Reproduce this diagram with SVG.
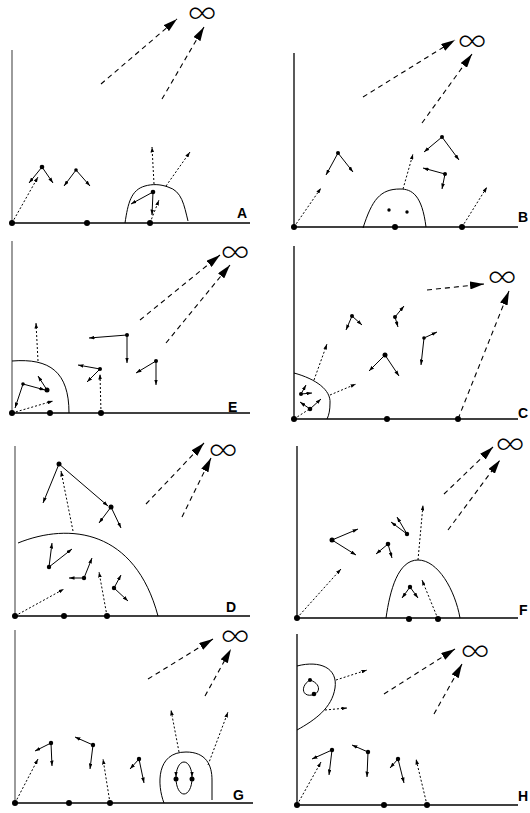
<svg xmlns="http://www.w3.org/2000/svg" width="530" height="813" viewBox="0 0 530 813">
<defs>
<marker id="ms" viewBox="0 0 6 4" refX="6" refY="2" markerWidth="5.5" markerHeight="3.8" markerUnits="userSpaceOnUse" orient="auto"><path d="M0,0L6,2L0,4z" fill="#000"/></marker>
<marker id="mb" viewBox="0 0 14 8" refX="14" refY="4" markerWidth="14" markerHeight="8" markerUnits="userSpaceOnUse" orient="auto"><path d="M0,0L14,4L0,8z" fill="#000"/></marker>
</defs>
<style>
.ax{stroke:#000;stroke-width:1.3;fill:none}
.axg{stroke:#666;stroke-width:1.3;fill:none}
.cv{stroke:#000;stroke-width:1;fill:none}
.s{stroke:#000;stroke-width:1;fill:none;marker-end:url(#ms)}
.d{stroke:#000;stroke-width:1;fill:none;stroke-dasharray:2,2;marker-end:url(#ms)}
.b{stroke:#000;stroke-width:1.1;fill:none;stroke-dasharray:5,4;marker-end:url(#mb)}
.lbl{font-family:"Liberation Sans",Arial,sans-serif;font-weight:bold;font-size:14px;fill:#000}
.inf{font-family:Inter,"DejaVu Sans",sans-serif;font-weight:200;font-size:32px;fill:#000;text-anchor:middle}
circle{fill:#000}
</style>
<rect width="530" height="813" fill="#fff"/>

<!-- Panel A -->
<g id="panel-A">
<path class="axg" d="M12,50V223"/><path class="ax" d="M12,223H250"/>
<path class="cv" d="M125,223C128,203 131,190 145,186C152,184 160,184 168,187C182,191 184,205 188,221"/>
<g id="conn-A">
<path class="b" d="M101,84L177,19"/><path class="b" d="M162,99L204,27"/>
<path class="d" d="M12,223L38,177"/>
<path class="s" d="M42,167L29,183"/><path class="s" d="M42,167L53,183"/>
<path class="s" d="M76,170L64,186"/><path class="s" d="M76,170L90,186"/>
<path class="s" d="M153,192L131,204"/><path class="s" d="M153,192L152,215"/>
<path class="d" d="M150,223L159,200"/>
<path class="d" d="M154,184L152,147"/><path class="d" d="M166,186L190,152"/>
</g>
<g id="nodes-A">
<circle id="A-o" cx="12" cy="223" r="3"/><circle id="A-p1" cx="87" cy="223" r="3"/><circle id="A-p2" cx="150" cy="223" r="3"/>
<circle id="A-n1" cx="42" cy="167" r="2.3"/><circle id="A-n2" cx="76" cy="170" r="1.8"/><circle id="A-n3" cx="153" cy="192" r="2.3"/>
<text id="A-inf" class="inf" x="202" y="23">∞</text>
</g>
<text class="lbl" x="237" y="218">A</text>
</g>

<!-- Panel B -->
<g id="panel-B">
<path class="ax" d="M294,53V227"/><path class="ax" d="M294,227H518"/>
<path class="cv" d="M363,228C372,200 380,189 400,189C412,189 422,195 426,227"/>
<g id="conn-B">
<path class="b" d="M363,97L455,40"/><path class="b" d="M422,123L472,54"/>
<path class="d" d="M294,227L321,188"/>
<path class="s" d="M338,153L326,175"/><path class="s" d="M338,153L353,172"/>
<path class="d" d="M403,189L413,154"/>
<path class="s" d="M442,137L424,152"/><path class="s" d="M442,137L459,160"/>
<path class="s" d="M445,174L423,168"/><path class="s" d="M445,174L442,189"/>
<path class="d" d="M462,227L487,187"/>
</g>
<g id="nodes-B">
<circle id="B-o" cx="294" cy="227" r="3"/><circle id="B-p1" cx="395" cy="227" r="3"/><circle id="B-p2" cx="462" cy="227" r="3"/>
<circle id="B-n1" cx="338" cy="153" r="2"/><circle id="B-n2" cx="389" cy="210" r="1.7"/><circle id="B-n3" cx="407" cy="212" r="1.7"/>
<circle id="B-n4" cx="442" cy="137" r="2"/><circle id="B-n5" cx="445" cy="174" r="2"/>
<text id="B-inf" class="inf" x="472" y="51">∞</text>
</g>
<text class="lbl" x="518" y="222">B</text>
</g>

<!-- Panel E -->
<g id="panel-E">
<path class="axg" d="M12,241V413"/><path class="ax" d="M12,413H250"/>
<path class="cv" d="M12,361C50,358 69,372 69,413"/>
<g id="conn-E">
<path class="b" d="M140,320L220,255"/><path class="b" d="M166,343L230,265"/>
<path class="d" d="M38,361L36,323"/>
<path class="s" d="M23,384L15,408"/><path class="s" d="M23,384L45,390"/><path class="s" d="M47,390L38,376"/>
<path class="d" d="M12,413L53,401"/>
<path class="s" d="M100,369L78,365"/><path class="s" d="M100,369L87,382"/>
<path class="d" d="M101,413L100,374"/>
<path class="s" d="M127,335L89,338"/><path class="s" d="M127,335L127,363"/>
<path class="s" d="M156,361L136,373"/><path class="s" d="M156,361L156,385"/>
</g>
<g id="nodes-E">
<circle id="E-o" cx="12" cy="413" r="3"/><circle id="E-p1" cx="50" cy="413" r="3"/><circle id="E-p2" cx="101" cy="413" r="3"/>
<circle id="E-n1" cx="23" cy="384" r="1.8"/><circle id="E-n2" cx="47" cy="390" r="2.5"/>
<circle id="E-n3" cx="100" cy="369" r="2"/><circle id="E-n4" cx="127" cy="335" r="2"/><circle id="E-n5" cx="156" cy="361" r="2"/>
<text id="E-inf" class="inf" x="235" y="262">∞</text>
</g>
<text class="lbl" x="228" y="412">E</text>
</g>

<!-- Panel C -->
<g id="panel-C">
<path class="ax" d="M294,246V419"/><path class="ax" d="M294,419H518"/>
<path class="cv" d="M294,373C316,379 331,390 330,403C330,410 329,415 327,419"/>
<g id="conn-C">
<path class="b" d="M427,290L484,284"/><path class="b" d="M458,419L509,291"/>
<path class="d" d="M314,380L327,344"/><path class="d" d="M330,395L356,384"/>
<path class="s" d="M301,394L306,385"/><path class="s" d="M301,394L312,393"/>
<path class="s" d="M310,409L300,402"/><path class="s" d="M310,409L321,399"/>
<path class="cv" stroke-dasharray="2,2" d="M294,419L308,410"/>
<path class="s" d="M352,316L346,330"/><path class="s" d="M352,316L362,325"/>
<path class="s" d="M395,317L404,306"/><path class="s" d="M395,317L398,327"/>
<path class="s" d="M385,355L369,371"/><path class="s" d="M385,355L399,376"/>
<path class="s" d="M424,338L437,332"/><path class="s" d="M424,338L421,365"/>
</g>
<g id="nodes-C">
<circle id="C-o" cx="294" cy="419" r="3"/><circle id="C-p1" cx="387" cy="419" r="3"/><circle id="C-p2" cx="458" cy="419" r="3"/>
<circle id="C-n1" cx="301" cy="394" r="2"/><circle id="C-n2" cx="310" cy="409" r="2.3"/>
<circle id="C-n3" cx="352" cy="316" r="2"/><circle id="C-n4" cx="395" cy="317" r="2"/>
<circle id="C-n5" cx="385" cy="355" r="2.5"/><circle id="C-n6" cx="424" cy="338" r="1.8"/>
<text id="C-inf" class="inf" x="502" y="287">∞</text>
</g>
<text class="lbl" x="518" y="418">C</text>
</g>

<!-- Panel D -->
<g id="panel-D">
<path class="axg" d="M15,446V616"/><path class="ax" d="M15,616H250"/>
<path class="cv" d="M18,543C70,522 135,530 158,616"/>
<g id="conn-D">
<path class="b" d="M146,504L204,443"/><path class="b" d="M182,517L211,458"/>
<path class="d" d="M73,531L61,471"/>
<path class="s" d="M59,464L43,503"/><path class="s" d="M59,464L108,506"/>
<path class="s" d="M111,507L99,523"/><path class="s" d="M111,507L121,528"/>
<path class="s" d="M49,567L52,543"/><path class="s" d="M49,567L72,549"/>
<path class="s" d="M84,578L69,578"/><path class="s" d="M84,578L92,558"/>
<path class="s" d="M114,588L121,575"/><path class="s" d="M114,588L128,601"/>
<path class="d" d="M15,616L64,589"/>
<path class="d" d="M107,616L99,572"/>
</g>
<g id="nodes-D">
<circle id="D-o" cx="15" cy="616" r="3"/><circle id="D-p1" cx="64" cy="616" r="3"/><circle id="D-p2" cx="107" cy="616" r="3"/>
<circle id="D-n1" cx="59" cy="464" r="2.5"/><circle id="D-n2" cx="111" cy="507" r="2.5"/>
<circle id="D-n3" cx="49" cy="567" r="2.2"/><circle id="D-n4" cx="84" cy="578" r="2.2"/><circle id="D-n5" cx="114" cy="588" r="2.2"/>
<text id="D-inf" class="inf" x="223" y="460">∞</text>
</g>
<text class="lbl" x="226" y="612">D</text>
</g>

<!-- Panel F -->
<g id="panel-F">
<path class="ax" d="M297,446V618"/><path class="ax" d="M297,618H518"/>
<path class="cv" d="M386,618C390,590 398,560 418,560C438,560 455,590 460,618"/>
<g id="conn-F">
<path class="b" d="M444,494L493,447"/><path class="b" d="M448,530L500,460"/>
<path class="d" d="M418,560L423,505"/>
<path class="s" d="M332,540L358,529"/><path class="s" d="M332,540L356,555"/>
<path class="s" d="M407,534L391,522"/><path class="s" d="M407,534L397,517"/>
<path class="s" d="M388,544L376,554"/><path class="s" d="M388,544L392,558"/>
<path class="s" d="M410,587L402,598"/><path class="s" d="M410,587L418,598"/>
<path class="d" d="M438,619L422,580"/>
<path class="d" d="M297,618L341,569"/>
</g>
<g id="nodes-F">
<circle id="F-o" cx="297" cy="618" r="3"/><circle id="F-p1" cx="409" cy="619" r="3"/><circle id="F-p2" cx="438" cy="619" r="3"/>
<circle id="F-n1" cx="332" cy="540" r="2.5"/><circle id="F-n2" cx="407" cy="534" r="2.2"/>
<circle id="F-n3" cx="388" cy="544" r="2.3"/><circle id="F-n4" cx="410" cy="587" r="2.2"/>
<text id="F-inf" class="inf" x="510" y="454">∞</text>
</g>
<text class="lbl" x="519" y="615">F</text>
</g>

<!-- Panel G -->
<g id="panel-G">
<path class="axg" d="M15,630V803"/><path class="ax" d="M15,803H253"/>
<path class="cv" d="M164,803C157,785 156,752 186,752C206,752 212,765 212,780L212,800"/>
<g id="conn-G">
<path class="b" d="M148,679L213,639"/><path class="b" d="M205,696L231,649"/>
<path class="s" d="M184,762C179,762 176,770 176,777"/>
<path class="s" d="M184,762C189,762 192,770 192,777"/>
<path class="cv" d="M176,778C176,788 180,794 184,794C188,794 192,788 192,778"/>
<path class="d" d="M179,752L171,710"/><path class="d" d="M208,765L228,712"/>
<path class="s" d="M51,743L35,751"/><path class="s" d="M51,743L52,766"/>
<path class="s" d="M93,745L75,737"/><path class="s" d="M93,745L90,769"/>
<path class="s" d="M139,759L130,769"/><path class="s" d="M139,759L144,783"/>
<path class="d" d="M15,803L38,759"/>
<path class="d" d="M110,803L103,759"/>
</g>
<g id="nodes-G">
<circle id="G-o" cx="15" cy="803" r="3"/><circle id="G-p1" cx="69" cy="803" r="3"/><circle id="G-p2" cx="110" cy="803" r="3"/>
<circle id="G-n1" cx="51" cy="743" r="2.2"/><circle id="G-n2" cx="93" cy="745" r="2.2"/><circle id="G-n3" cx="139" cy="759" r="2.2"/>
<circle id="G-n4" cx="176" cy="779" r="2.5"/><circle id="G-n5" cx="192" cy="779" r="2.5"/>
<text id="G-inf" class="inf" x="235" y="646">∞</text>
</g>
<text class="lbl" x="233" y="800">G</text>
</g>

<!-- Panel H -->
<g id="panel-H">
<path class="ax" d="M297,634V805"/><path class="ax" d="M297,805H518"/>
<path class="cv" d="M297,666C320,660 338,668 335,688C332,708 315,720 297,730"/>
<g id="conn-H">
<path class="b" d="M384,694L455,649"/><path class="b" d="M434,714L462,664"/>
<path class="cv" d="M310,680C300,686 302,697 312,695C320,694 322,684 310,680Z"/>
<path class="d" d="M336,680L367,670"/><path class="d" d="M325,710L347,708"/>
<path class="s" d="M332,750L312,759"/><path class="s" d="M332,750L329,775"/>
<path class="s" d="M368,752L352,745"/><path class="s" d="M368,752L367,777"/>
<path class="s" d="M398,759L390,768"/><path class="s" d="M398,759L404,783"/>
<path class="d" d="M297,805L321,762"/>
<path class="d" d="M427,805L416,759"/>
</g>
<g id="nodes-H">
<circle id="H-o" cx="297" cy="805" r="3"/><circle id="H-p1" cx="384" cy="805" r="3"/><circle id="H-p2" cx="427" cy="805" r="3"/>
<circle id="H-n1" cx="310" cy="680" r="2"/><circle id="H-n2" cx="314" cy="694" r="2.3"/>
<circle id="H-n3" cx="332" cy="750" r="2.2"/><circle id="H-n4" cx="368" cy="752" r="2.2"/><circle id="H-n5" cx="398" cy="759" r="2.2"/>
<text id="H-inf" class="inf" x="475" y="661">∞</text>
</g>
<text class="lbl" x="518" y="801">H</text>
</g>
</svg>
